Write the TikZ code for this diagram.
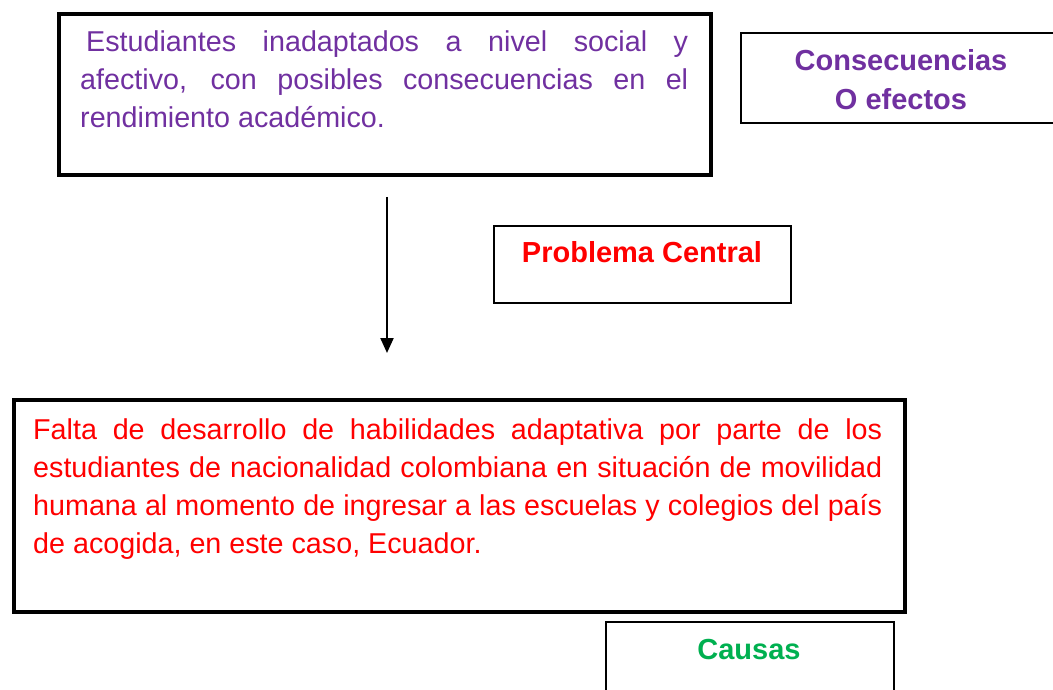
\documentclass[tikz,border=0pt]{standalone}
\usepackage{fontspec}
\setmainfont{Liberation Sans}
\usetikzlibrary{arrows.meta,positioning}
\definecolor{morado}{RGB}{112,48,160}
\definecolor{rojo}{RGB}{255,0,0}
\definecolor{verde}{RGB}{0,176,80}

\begin{document}
\begin{tikzpicture}[x=1pt,y=-1pt,
  caja/.style={draw,anchor=north west,inner sep=0pt,line width=1.8pt},
  cajagruesa/.style={caja,line width=4pt},
  parrafo/.style={anchor=north west,inner sep=0pt,align=justify,font=\fontsize{28.7}{38}\selectfont},
  titulo/.style={inner sep=0pt,align=center,font=\bfseries\fontsize{29}{39}\selectfont},
  flecha/.style={line width=2.2pt,-{Triangle[width=13pt,length=15pt]}}]
\useasboundingbox (0,0) rectangle (1053,690);

\node[cajagruesa,minimum width=652pt,minimum height=161pt] (efectos) at (57,12) {};
\node[parrafo,text width=608pt,text=morado] (efectostxt) at (80,31)
  {\hspace*{6pt}Estudiantes inadaptados a nivel social y\linebreak
   afectivo, con posibles consecuencias en el\linebreak
   rendimiento académico.};

\node[caja,minimum width=322pt,minimum height=90pt] (consecuencias) at (740,32) {};
\node[titulo,text=morado,anchor=north] (consecuenciastxt) at (901,49) {Consecuencias\\O efectos};

\node[caja,minimum width=297pt,minimum height=77pt] (etiqueta) at (493,225) {};
\node[titulo,text=rojo,anchor=base] (etiquetatxt) at (642,262) {Problema Central};

\node[cajagruesa,minimum width=891pt,minimum height=212pt] (central) at (12,398) {};
\node[parrafo,text width=849pt,text=rojo] (centraltxt) at (33,419)
  {Falta de desarrollo de habilidades adaptativa por parte de los\linebreak
   estudiantes de nacionalidad colombiana en situación de movilidad\linebreak
   humana al momento de ingresar a las escuelas y colegios del país\linebreak
   de acogida, en este caso, Ecuador.};

\node[caja,minimum width=288pt,minimum height=90pt] (causas) at (605,621) {};
\node[titulo,text=verde,anchor=base] (causastxt) at (749,659) {Causas};

\draw[flecha,shorten <=20pt,shorten >=45pt] ([xshift=2pt]efectos.south) -- ([xshift=2pt]efectos.south |- central.north);
\end{tikzpicture}
\end{document}
